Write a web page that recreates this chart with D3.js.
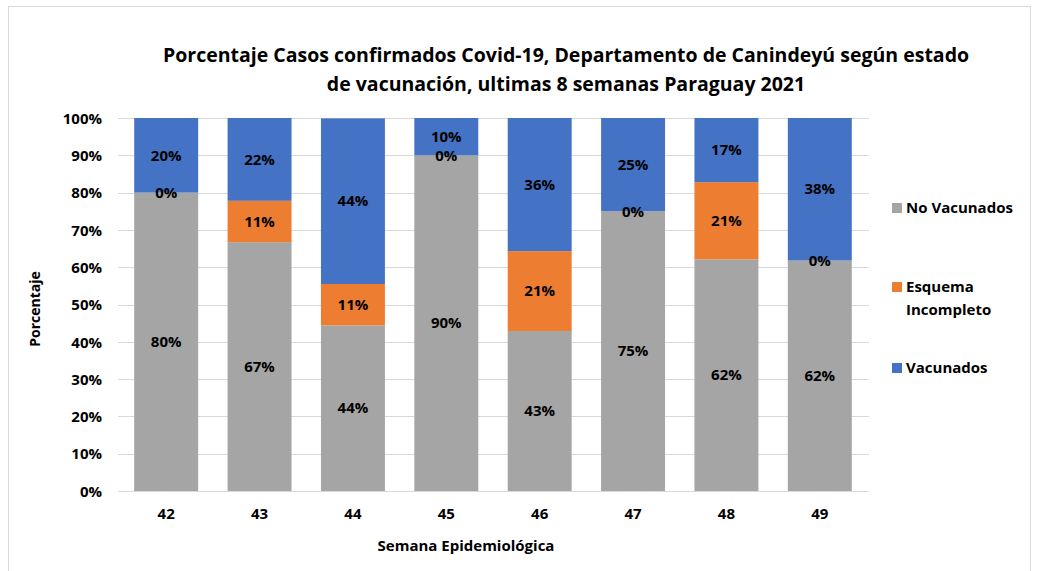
<!DOCTYPE html>
<html><head><meta charset="utf-8">
<script src="https://cdn.jsdelivr.net/npm/d3@7"></script>
<style>body{margin:0;background:#fff}svg{display:block}text{font-family:"Open Sans",sans-serif;font-weight:bold;fill:#000}</style>
</head><body><svg id="c" width="1040" height="571"></svg>
<script>
const semanas = ["42","43","44","45","46","47","48","49"];
const noVacunados = [80, 66.7, 44.4, 90, 42.9, 75, 62.1, 61.8];
const esquemaIncompleto = [0, 11.1, 11.1, 0, 21.4, 0, 20.7, 0];
const vacunados = [20, 22.2, 44.4, 10, 35.7, 25, 17.2, 38.2];
const seriesNames = ["No Vacunados", "Esquema Incompleto", "Vacunados"];
const colors = ["#A5A5A5", "#ED7D31", "#4472C4"];
const yTicks = [0,10,20,30,40,50,60,70,80,90,100];

const svg = d3.select("#c");
svg.append("rect").attr("x",8.5).attr("y",6.5).attr("width",1022).attr("height",580).attr("fill","none").attr("stroke","#D9D9D9");

const rows = semanas.map((s,i)=>({semana:s,"No Vacunados":noVacunados[i],"Esquema Incompleto":esquemaIncompleto[i],"Vacunados":vacunados[i]}));
const stack = d3.stack().keys(seriesNames)(rows);

const x = d3.scaleBand().domain(semanas).range([119.5, 866.5]).paddingInner(0.315).paddingOuter(0.1575);
const y = d3.scaleLinear().domain([0,100]).range([491, 118]);

// gridlines
svg.append("g").selectAll("line").data(yTicks).join("line")
  .attr("x1",118).attr("x2",869).attr("y1",d=>Math.round(y(d))+0.5).attr("y2",d=>Math.round(y(d))+0.5)
  .attr("stroke","#D9D9D9").attr("stroke-width",1);

// y axis labels
const yAxis = d3.axisLeft(y).tickValues(yTicks).tickFormat(d=>d+"%").tickSize(0).tickPadding(0);
const ya = svg.append("g").attr("transform","translate(102,0)").call(yAxis);
ya.select(".domain").remove();
ya.selectAll("text").style("font-size","15px").attr("dy","0.35em").attr("fill","#000");

// x axis labels
const xAxis = d3.axisBottom(x).tickSize(0).tickPadding(0);
const xa = svg.append("g").attr("transform","translate(0,508)").call(xAxis);
xa.select(".domain").remove();
xa.selectAll("text").style("font-size","15px").attr("dy","0.71em").attr("fill","#000");

// bars
stack.forEach((layer,k)=>{
  svg.append("g").selectAll("rect").data(layer).join("rect")
    .attr("x",d=>x(d.data.semana)).attr("width",x.bandwidth())
    .attr("y",d=>y(d[1])).attr("height",d=>y(d[0])-y(d[1]))
    .attr("fill",colors[k]);
});
// labels
stack.forEach((layer,k)=>{
  svg.append("g").selectAll("text").data(layer).join("text")
    .attr("x",d=>x(d.data.semana)+x.bandwidth()/2)
    .attr("y",d=>y((d[0]+d[1])/2)).attr("dy","0.35em")
    .attr("text-anchor","middle").style("font-size","15px")
    .text(d=>Math.round(d[1]-d[0])+"%");
});

// titles
const title = svg.append("text").attr("text-anchor","middle").style("font-size","19.5px");
title.append("tspan").attr("x",566).attr("y",62).text("Porcentaje Casos confirmados Covid-19, Departamento de Canindeyú según estado");
title.append("tspan").attr("x",566).attr("y",91).text("de vacunación, ultimas 8 semanas Paraguay 2021");

svg.append("text").attr("text-anchor","middle").attr("transform","translate(40,309) rotate(-90)").style("font-size","14px").text("Porcentaje");
svg.append("text").attr("text-anchor","middle").attr("x",466).attr("y",551).style("font-size","15px").text("Semana Epidemiológica");

// legend
const legendY = [[208],[287,310],[368]];
const lg = svg.append("g");
seriesNames.forEach((n,i)=>{
  const words = i===1 ? ["Esquema","Incompleto"] : [n];
  lg.append("rect").attr("x",892).attr("y",legendY[i][0]-5).attr("width",10).attr("height",10).attr("fill",colors[i]);
  words.forEach((w,j)=>{
    lg.append("text").attr("x",906).attr("y",legendY[i][j]).attr("dy","0.35em").style("font-size","15px").text(w);
  });
});
</script></body></html>
